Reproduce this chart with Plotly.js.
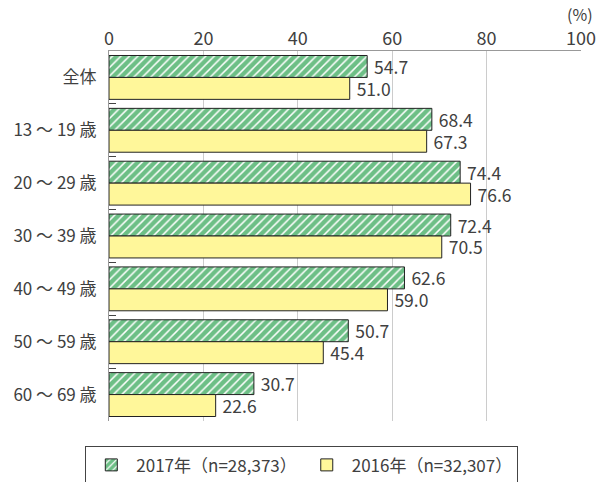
<!DOCTYPE html>
<html><head><meta charset="utf-8">
<script src="https://cdn.plot.ly/plotly-3.0.1.min.js"></script>
<style>body{margin:0;background:#fff}#c{width:600px;height:482px}</style>
</head><body><div id="c"></div>
<script>
const categories = ["全体", "13 〜 19 歳", "20 〜 29 歳", "30 〜 39 歳", "40 〜 49 歳", "50 〜 59 歳", "60 〜 69 歳"];
const values2017 = [54.7, 68.4, 74.4, 72.4, 62.6, 50.7, 30.7];
const values2016 = [51.0, 67.3, 76.6, 70.5, 59.0, 45.4, 22.6];
const seriesNames = ["2017年（n=28,373）", "2016年（n=32,307）"];
const xTicks = [0, 20, 40, 60, 80, 100];

const FONT = "'Noto Sans CJK JP', 'Noto Sans', sans-serif";
const green = "#6dbf86";
const yellow = "#fff79a";
const TXT = "#404040";

const traces = [
  {
    type: "bar", orientation: "h", name: seriesNames[0],
    y: categories, x: values2017,
    text: values2017.map(v => "\u00a0" + v.toFixed(1)), textposition: "outside",
    constraintext: "none",
    textfont: {size: 17.5, color: TXT}, cliponaxis: false,
    marker: {color: green, line: {color: "#222", width: 1},
      pattern: {shape: "/", fgcolor: "#ffffff", bgcolor: green, size: 6, solidity: 0.25, fillmode: "replace"}},
    hoverinfo: "none"
  },
  {
    type: "bar", orientation: "h", name: seriesNames[1],
    y: categories, x: values2016,
    text: values2016.map(v => "\u00a0" + v.toFixed(1)), textposition: "outside",
    constraintext: "none",
    textfont: {size: 17.5, color: TXT}, cliponaxis: false,
    marker: {color: yellow, line: {color: "#222", width: 1}},
    hoverinfo: "none"
  }
];

const layout = {
  width: 600, height: 482,
  margin: {l: 109, r: 19, t: 51, b: 61},
  font: {family: FONT, color: TXT, size: 17},
  paper_bgcolor: "#fff", plot_bgcolor: "#fff",
  barmode: "group", bargap: 0.17, bargroupgap: 0,
  showlegend: true,
  legend: {orientation: "h", xref: "container", yref: "container",
    x: 0.503, xanchor: "center", y: 0.074, yanchor: "top",
    bordercolor: "#444", borderwidth: 1, font: {size: 17, color: TXT},
    traceorder: "normal", itemwidth: 40},
  xaxis: {side: "top", range: [0, 100], tickvals: xTicks, ticks: "",
    showgrid: true, gridcolor: "#cccccc", gridwidth: 1, zeroline: false,
    showline: true, linecolor: "#999", linewidth: 1, mirror: false,
    tickfont: {size: 18, color: TXT}, ticklabelstandoff: -2, fixedrange: true},
  yaxis: {type: "category", autorange: "reversed", tickson: "boundaries",
    ticks: "inside", ticklen: 7, tickcolor: "#444", tickwidth: 1,
    showline: true, linecolor: "#999", linewidth: 1, showgrid: false,
    tickfont: {size: 17, color: TXT}, ticklabelstandoff: 8, fixedrange: true},
  annotations: [{text: "(%)", xref: "paper", yref: "paper", x: 1.03, y: 1.0, yshift: 37,
    xanchor: "right", yanchor: "middle", showarrow: false, font: {size: 16, color: TXT}}]
};

Plotly.newPlot("c", traces, layout, {displayModeBar: false, staticPlot: true});
</script></body></html>
